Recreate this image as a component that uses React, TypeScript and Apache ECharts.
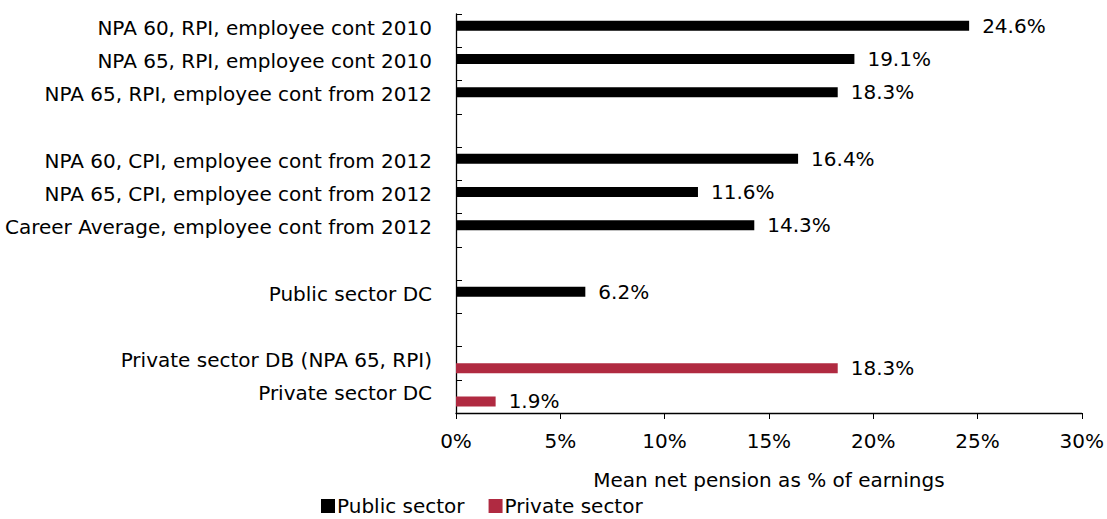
import React, { useEffect, useRef } from "react";
import * as echarts from "echarts";

const categories = [
  "NPA 60, RPI, employee cont 2010",
  "NPA 65, RPI, employee cont 2010",
  "NPA 65, RPI, employee cont from 2012",
  " ",
  "NPA 60, CPI, employee cont from 2012",
  "NPA 65, CPI, employee cont from 2012",
  "Career Average, employee cont from 2012",
  "  ",
  "Public sector DC",
  "   ",
  "Private sector DB (NPA 65, RPI)",
  "Private sector DC",
];

const publicSector: (number | null)[] = [24.6, 19.1, 18.3, null, 16.4, 11.6, 14.3, null, 6.2, null, null, null];
const privateSector: (number | null)[] = [null, null, null, null, null, null, null, null, null, null, 18.3, 1.9];

const xTicks = [0, 5, 10, 15, 20, 25, 30];

const FONT = "DejaVu Sans";
const FS = 20;

export default function App() {
  const ref = useRef<HTMLDivElement>(null);
  useEffect(() => {
    document.body.style.margin = "0";
    const chart = echarts.init(ref.current!, undefined, { renderer: "svg" });
    const labelCfg = {
      show: true,
      position: "right" as const,
      distance: 13,
      color: "#000",
      fontFamily: FONT,
      fontSize: FS,
      formatter: (p: any) => (p.value == null ? "" : Number(p.value).toFixed(1) + "%"),
    };
    chart.setOption({
      animation: false,
      textStyle: { fontFamily: FONT },
      grid: { left: 456, right: 24, top: 14, bottom: 106, containLabel: false },
      legend: {
        left: 316,
        top: 491,
        itemWidth: 14,
        itemHeight: 14,
        itemGap: 24,
        icon: "rect",
        textStyle: { fontFamily: FONT, fontSize: FS, lineHeight: 20, color: "#000", padding: [0, 0, 0, -3] },
        data: ["Public sector", "Private sector"],
      },
      xAxis: {
        type: "value",
        min: xTicks[0],
        max: xTicks[xTicks.length - 1],
        interval: 5,
        name: "Mean net pension as % of earnings",
        nameLocation: "middle",
        nameGap: 57,
        nameTextStyle: { fontFamily: FONT, fontSize: FS, color: "#000" },
        axisLine: { show: true, lineStyle: { color: "#000", width: 1.3 } },
        axisTick: { show: true, inside: false, length: 6, lineStyle: { color: "#000" } },
        splitLine: { show: false },
        axisLabel: { formatter: (v: number) => v + "%", fontFamily: FONT, fontSize: FS, color: "#000", margin: 18 },
      },
      yAxis: {
        type: "category",
        inverse: true,
        data: categories,
        axisLine: { show: true, lineStyle: { color: "#000", width: 1.3 } },
        axisTick: { show: true, inside: true, length: 6, lineStyle: { color: "#000" } },
        axisLabel: {
          fontFamily: FONT,
          fontSize: FS,
          color: "#000",
          margin: 24,
          lineHeight: 6,
          verticalAlign: "bottom",
        },
      },
      series: [
        {
          name: "Public sector",
          type: "bar",
          data: publicSector,
          barWidth: 10,
          barGap: "0%",
          itemStyle: { color: "#000" },
          label: labelCfg,
        },
        {
          name: "Private sector",
          type: "bar",
          data: privateSector,
          barWidth: 10,
          barGap: "0%",
          itemStyle: { color: "#B02A41" },
          label: labelCfg,
        },
      ],
    });
    return () => chart.dispose();
  }, []);
  return <div ref={ref} style={{ width: 1107, height: 519 }} />;
}
